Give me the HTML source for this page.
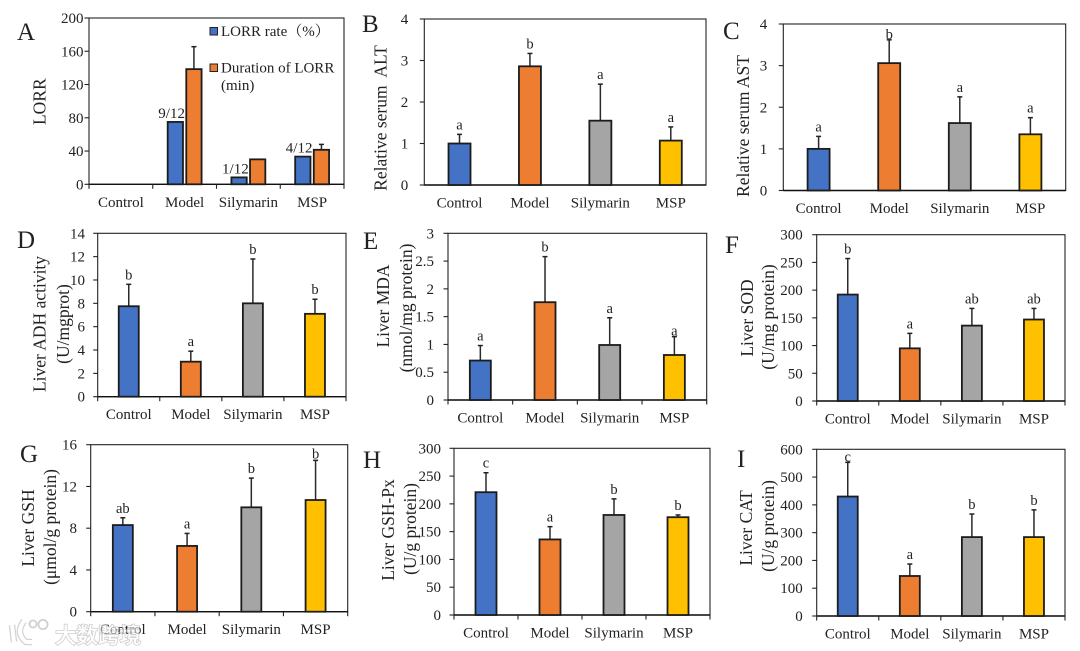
<!DOCTYPE html>
<html lang="en">
<head>
<meta charset="utf-8">
<title>Liver and serum biomarker bar charts</title>
<style>
  html, body { margin: 0; padding: 0; background: #fff; }
  svg { display: block; filter: blur(0.3px); }
  text { font-family: "Liberation Serif", "Noto Serif CJK SC", serif; fill: #222; white-space: pre; }
</style>
</head>
<body>
<svg id="figure" xmlns="http://www.w3.org/2000/svg" width="1080" height="651" viewBox="0 0 1080 651">
  <rect x="0" y="0" width="1080" height="651" fill="#ffffff"></rect>
</svg>
<script>
// ---------- data ----------
const categories = ["Control", "Model", "Silymarin", "MSP"];

const aTicks = [0, 40, 80, 120, 160, 200];
const aRate = [0, 75, 8.3, 33.3];
const aRateLabels = ["", "9/12", "1/12", "4/12"];
const aDuration = [0, 138.5, 30, 41.5];
const aDurationTop = [0, 165.5, 30, 48];

const bTicks = [0, 1, 2, 3, 4];
const bValues = [1, 2.86, 1.55, 1.07];
const bTops = [1.22, 3.17, 2.43, 1.4];
const bLetters = ["a", "b", "a", "a"];

const cTicks = [0, 1, 2, 3, 4];
const cValues = [1, 3.06, 1.62, 1.35];
const cTops = [1.3, 3.62, 2.25, 1.75];
const cLetters = ["a", "b", "a", "a"];

const dTicks = [0, 2, 4, 6, 8, 10, 12, 14];
const dValues = [7.75, 3, 8, 7.1];
const dTops = [9.63, 3.9, 11.8, 8.35];
const dLetters = ["b", "a", "b", "b"];

const eTicks = [0, 0.5, 1, 1.5, 2, 2.5, 3];
const eValues = [0.71, 1.76, 0.99, 0.81];
const eTops = [0.98, 2.58, 1.48, 1.14];
const eLetters = ["a", "b", "a", "a"];

const fTicks = [0, 50, 100, 150, 200, 250, 300];
const fValues = [192, 95, 136, 147];
const fTops = [257, 122, 167, 167];
const fLetters = ["b", "a", "ab", "ab"];

const gTicks = [0, 4, 8, 12, 16];
const gValues = [8.3, 6.3, 10, 10.7];
const gTops = [9, 7.5, 12.8, 14.5];
const gLetters = ["ab", "a", "b", "b"];

const hTicks = [0, 50, 100, 150, 200, 250, 300];
const hValues = [221, 136, 180, 176];
const hTops = [256, 159, 209, 180];
const hLetters = ["c", "a", "b", "b"];

const iTicks = [0, 100, 200, 300, 400, 500, 600];
const iValues = [430, 144, 284, 284];
const iTops = [553, 187, 367, 382];
const iLetters = ["c", "a", "b", "b"];

const barColors = ["#4472C4", "#ED7D31", "#A5A5A5", "#FFC000"];

// ---------- panel layout (kept apart from the data) ----------
const panels = [
  { id: "b", letter: "B", lx: 362, ly: 32, L: 424.3, R: 706, T: 19, B: 185, ticks: bTicks, values: bValues, tops: bTops, letters: bLetters, barW: 22, labelGap: 16, xTicks: false, lift: [5, 5, 5, 5],
    titles: [{ t: "Relative serum  ALT", x: 380.7, y: 118 }] },
  { id: "c", letter: "C", lx: 723, ly: 39, L: 783.3, R: 1065.7, T: 24, B: 190.5, ticks: cTicks, values: cValues, tops: cTops, letters: cLetters, barW: 22, labelGap: 16, xTicks: false, lift: [5, 1, 5, 5],
    titles: [{ t: "Relative serum AST", x: 743, y: 126 }] },
  { id: "d", letter: "D", lx: 17, ly: 248, L: 97.7, R: 346, T: 233.3, B: 396.7, ticks: dTicks, values: dValues, tops: dTops, letters: dLetters, barW: 20, labelGap: 12.7, xTicks: true, lift: [5, 5, 5, 5],
    titles: [{ t: "Liver ADH activity", x: 39.3, y: 324 }, { t: "(U/mgprot)", x: 63, y: 324 }] },
  { id: "e", letter: "E", lx: 363, ly: 249, L: 448, R: 706.7, T: 233.3, B: 400, ticks: eTicks, values: eValues, tops: eTops, letters: eLetters, barW: 21, labelGap: 14, xTicks: true, lift: [5, 5, 5, 1],
    titles: [{ t: "Liver MDA", x: 383, y: 306 }, { t: "(nmol/mg protein)", x: 406, y: 308 }] },
  { id: "f", letter: "F", lx: 725, ly: 253, L: 816.7, R: 1065, T: 234.7, B: 401, ticks: fTicks, values: fValues, tops: fTops, letters: fLetters, barW: 20, labelGap: 14, xTicks: true, lift: [5, 5, 5, 5],
    titles: [{ t: "Liver SOD", x: 747, y: 318 }, { t: "(U/mg protein)", x: 768, y: 317 }] },
  { id: "g", letter: "G", lx: 20, ly: 462, L: 90.7, R: 347.7, T: 444.7, B: 611.7, ticks: gTicks, values: gValues, tops: gTops, letters: gLetters, barW: 20, labelGap: 13.7, xTicks: true, lift: [5, 5, 5, 2],
    titles: [{ t: "Liver GSH", x: 28, y: 528 }, { t: "(μmol/g protein)", x: 50, y: 527 }] },
  { id: "h", letter: "H", lx: 363, ly: 468, L: 454, R: 710, T: 448.3, B: 615, ticks: hTicks, values: hValues, tops: hTops, letters: hLetters, barW: 21, labelGap: 13, xTicks: true, lift: [5, 5, 5, 5],
    titles: [{ t: "Liver GSH-Px", x: 388, y: 530 }, { t: "(U/g protein)", x: 410, y: 529 }] },
  { id: "i", letter: "I", lx: 737, ly: 467, L: 816.7, R: 1065, T: 449.3, B: 616, ticks: iTicks, values: iValues, tops: iTops, letters: iLetters, barW: 20, labelGap: 14, xTicks: true, lift: [1, 5, 5, 5],
    titles: [{ t: "Liver CAT", x: 746, y: 528 }, { t: "(U/g protein)", x: 768, y: 526 }] }
];

const panelA = { id: "a", letter: "A", lx: 17, ly: 40, L: 89, R: 344, T: 18, B: 184.3, ticks: aTicks, labelGap: 5.5, xTicks: true,
  titles: [{ t: "LORR", x: 39.3, y: 101.7 }] };

// ---------- helpers ----------
const svgNS = "http://www.w3.org/2000/svg";
const root = document.getElementById("figure");

function makeEl(parent, tag, props, content) {
  const el = document.createElementNS(svgNS, tag);
  for (const k in props) el.setAttribute(k, props[k]);
  if (content !== undefined) el.textContent = content;
  parent.appendChild(el);
  return el;
}
function yScale(p, v) {
  const max = p.ticks[p.ticks.length - 1];
  return p.B - (v / max) * (p.B - p.T);
}
function xCenter(p, i) {
  return p.L + ((p.R - p.L) / categories.length) * (i + 0.5);
}

function drawAxes(group, p) {
  const box = makeEl(group, "rect", { x: p.L, y: p.T, width: p.R - p.L, height: p.B - p.T, fill: "none", stroke: "#222", "stroke-width": 1.1 });
  
  

  const panelLabel = makeEl(group, "text", { x: p.lx, y: p.ly, "font-size": 25 }, p.letter);
  
  

  p.ticks.forEach(function (v) {
    const y = yScale(p, v);
    const tick = makeEl(group, "line", { x1: p.L - 4.5, x2: p.L, y1: y, y2: y, stroke: "#222", "stroke-width": 1.1 });
    
    
    const lab = makeEl(group, "text", { x: p.L - p.labelGap, y: y + 5, "font-size": 15, "text-anchor": "end" }, String(v));
    
    
  });

  const axis = makeEl(group, "line", { x1: p.L, x2: p.R, y1: p.B, y2: p.B, stroke: "#111", "stroke-width": 1.4 });
  
  

  if (p.xTicks) {
    for (let i = 0; i <= categories.length; i++) {
      const x = p.L + ((p.R - p.L) / categories.length) * i;
      const tick = makeEl(group, "line", { x1: x, x2: x, y1: p.B, y2: p.B + 4.5, stroke: "#222", "stroke-width": 1.1 });
      
      
    }
  }
  categories.forEach(function (c, i) {
    const lab = makeEl(group, "text", { x: xCenter(p, i), y: p.B + 22.5, "font-size": 15, "text-anchor": "middle" }, c);
    
    
  });

  p.titles.forEach(function (t) {
    const title = makeEl(group, "text", { transform: "translate(" + t.x + "," + t.y + ") rotate(-90)", "font-size": 17.5, "text-anchor": "middle", "dominant-baseline": "central" }, t.t);
    
    
  });
}

function drawBar(group, p, cx, w, value, fill) {
  const top = yScale(p, value);
  const bar = makeEl(group, "rect", { x: cx - w / 2, y: top, width: w, height: p.B - top, fill: fill, stroke: "#1c1c1c", "stroke-width": 1.8 });
  
  
  return bar;
}
function drawError(group, p, cx, value, topValue) {
  const y0 = yScale(p, value), y1 = yScale(p, topValue);
  const stem = makeEl(group, "line", { x1: cx, x2: cx, y1: y0, y2: y1, stroke: "#2a2a2a", "stroke-width": 1.5 });
  
  
  const cap = makeEl(group, "line", { x1: cx - 2.5, x2: cx + 2.5, y1: y1, y2: y1, stroke: "#222", "stroke-width": 1.5 });
  
  
}

// ---------- panels B–I ----------
panels.forEach(function (p) {
  const group = makeEl(root, "g", {});
  
  
  drawAxes(group, p);
  categories.forEach(function (c, i) {
    const cx = xCenter(p, i);
    drawError(group, p, cx, p.values[i], p.tops[i]);
    drawBar(group, p, cx, p.barW, p.values[i], barColors[i]);
    const sig = makeEl(group, "text", { x: cx, y: yScale(p, p.tops[i]) - p.lift[i], "font-size": 14.5, "text-anchor": "middle" }, p.letters[i]);
    
    
  });
});

// ---------- panel A ----------
(function () {
  const p = panelA;
  const group = makeEl(root, "g", {});
  
  
  drawAxes(group, p);
  categories.forEach(function (c, i) {
    const cx = xCenter(p, i);
    const bx = cx - 9.3, ox = cx + 9.3;
    if (aRate[i] > 0) drawBar(group, p, bx, 15.3, aRate[i], barColors[0]);
    if (aDuration[i] > 0) {
      if (aDurationTop[i] > aDuration[i]) drawError(group, p, ox, aDuration[i], aDurationTop[i]);
      drawBar(group, p, ox, 15.3, aDuration[i], barColors[1]);
    }
    if (aRateLabels[i]) {
      const rate = makeEl(group, "text", { x: bx - 3.7, y: yScale(p, aRate[i]) - 4, "font-size": 15, "text-anchor": "middle" }, aRateLabels[i]);
      
      
    }
  });

  const key1 = makeEl(group, "rect", { x: 210, y: 27.5, width: 7.5, height: 7.5, fill: barColors[0], stroke: "#222", "stroke-width": 1 });
  
  
  const txt1 = makeEl(group, "text", { x: 221, y: 36, "font-size": 15 }, "LORR rate（%）");
  
  
  const key2 = makeEl(group, "rect", { x: 210, y: 64, width: 7.5, height: 7.5, fill: barColors[1], stroke: "#222", "stroke-width": 1 });
  
  
  const txt2 = makeEl(group, "text", { x: 221, y: 72.5, "font-size": 15 }, "Duration of LORR");
  
  
  const txt3 = makeEl(group, "text", { x: 221, y: 90, "font-size": 15 }, "(min)");
  
  
})();

// ---------- watermark ----------
(function () {
  const wm = makeEl(root, "g", { opacity: 0.62 });
  
  
  const markD = "M12 625 L14 642 M24 621 Q15 633 26 642 L32 642";
  const logo2 = makeEl(wm, "path", { d: markD, fill: "none", stroke: "#b8b8b8", "stroke-width": 6.5 });
  
  
  const logo = makeEl(wm, "path", { d: markD, fill: "none", stroke: "#ffffff", "stroke-width": 4 });
  
  
  const c1 = makeEl(wm, "circle", { cx: 33, cy: 624, r: 3.6, fill: "#fff", stroke: "#b4b4b4", "stroke-width": 1.8 });
  
  
  const c2 = makeEl(wm, "circle", { cx: 43, cy: 624.5, r: 4.6, fill: "#fff", stroke: "#b4b4b4", "stroke-width": 1.8 });
  
  
  const t = makeEl(wm, "text", { x: 55, y: 643, "font-size": 21.5, style: "font-family:'Noto Sans CJK SC',sans-serif;fill:#ffffff;stroke:#b0b0b0;stroke-width:1.6;paint-order:stroke;font-weight:500" }, "大数跨境");
  
  
})();
</script>
</body>
</html>
